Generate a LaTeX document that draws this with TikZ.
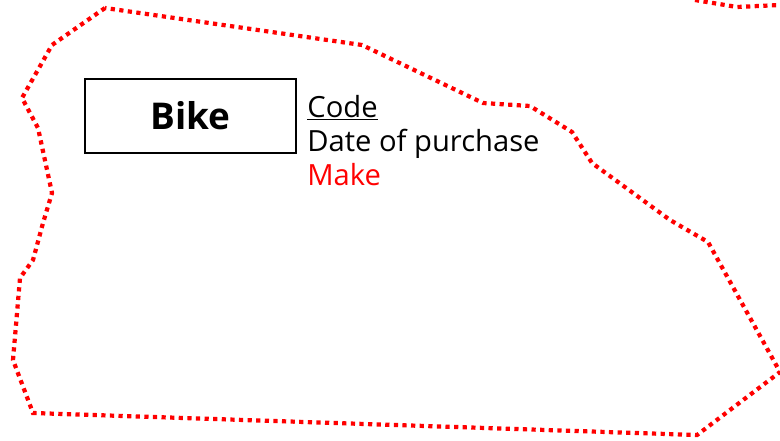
\documentclass[tikz,border=0pt]{standalone}
\usepackage{fontspec}
\setmainfont{Open Sans}
\usetikzlibrary{positioning}

\tikzset{
  boundary/.style={red, line width=2.4pt, dash pattern=on 2.4pt off 2.5pt},
  entity/.style={draw, line width=1.4pt, minimum width=4.22cm, minimum height=1.48cm,
    font=\fontsize{21}{25}\selectfont\bfseries},
  attr/.style={anchor=base west, inner sep=0pt, font=\fontsize{16.6}{20}\selectfont}
}

\begin{document}
\begin{tikzpicture}[x=0.02cm, y=-0.02cm]

  \useasboundingbox (0,0) rectangle (780,440);

  % Boundary of the Bike area
  \draw[boundary] (105,8) -- (52,45) -- (22,98) -- (38,128) -- (52,193)
    -- (43,223) -- (33,260) -- (20,278) -- (13,360) -- (33,413)
    -- (697,435) -- (780,372) -- (708,242) -- (670,220) -- (592,163)
    -- (572,132) -- (530,106) -- (483,103) -- (362,45) -- cycle;

  % Piece of the next area (top right)
  \draw[boundary] (695,0) -- (737,7) -- (780,5);

  % Entity
  \node[entity] (bike) at (190.5,116) {Bike};

  % Attributes
  \node[attr] (code) at (307,117) {\underline{Code}};
  \node[attr] (date) at (307,151) {Date of purchase};
  \node[attr, red] (make) at (307,185) {Make};

\end{tikzpicture}
\end{document}
